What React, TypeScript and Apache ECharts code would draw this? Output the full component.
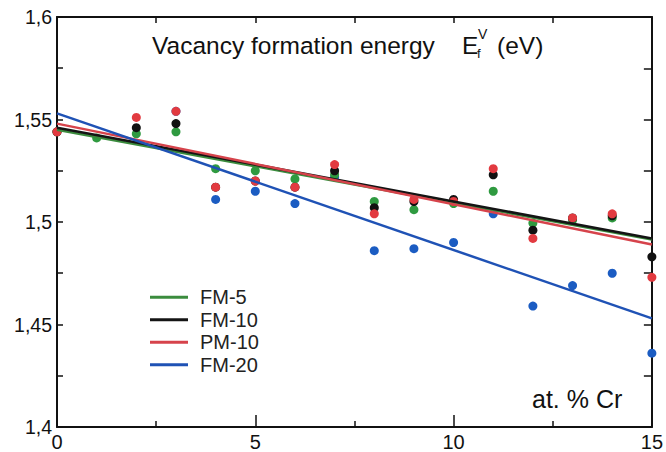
import React, { useEffect, useRef } from "react";
import * as echarts from "echarts";

const xs = [0, 1, 2, 3, 4, 5, 6, 7, 8, 9, 10, 11, 12, 13, 14, 15];
const seriesNames = ["FM-5", "FM-10", "PM-10", "FM-20"];
const fm5 = [1.544, 1.541, 1.543, 1.544, 1.526, 1.525, 1.521, 1.523, 1.51, 1.506, 1.509, 1.515, 1.4995, 1.501, 1.502, null];
const fm10 = [1.544, null, 1.546, 1.548, 1.517, 1.52, 1.517, 1.525, 1.507, 1.51, 1.511, 1.523, 1.496, 1.502, 1.503, 1.483];
const pm10 = [1.544, null, 1.551, 1.554, 1.517, 1.52, 1.517, 1.528, 1.504, 1.511, 1.51, 1.526, 1.492, 1.502, 1.504, 1.473];
const fm20 = [null, null, null, 1.554, 1.511, 1.515, 1.509, 1.522, 1.486, 1.487, 1.49, 1.504, 1.459, 1.469, 1.475, 1.436];
// fitted lines: value at 0 and at 15 at.% Cr
const fitX = [0, 15];
const fitFm5 = [1.545, 1.4915];
const fitFm10 = [1.546, 1.492];
const fitPm10 = [1.548, 1.489];
const fitFm20 = [1.553, 1.453];
const yTicks = [1.4, 1.45, 1.5, 1.55, 1.6];
const xTicks = [0, 5, 10, 15];

const colors = ["#3b8c3e", "#141414", "#d6434b", "#1f52b5"];
const dotColors = ["#2f9a40", "#111111", "#e23a40", "#1b5cc2"];
const FONT = "'Liberation Sans', Arial, Helvetica, sans-serif";

export default function App() {
  const ref = useRef<HTMLDivElement>(null);
  useEffect(() => {
    if (!ref.current) return;
    const chart = echarts.init(ref.current, null, { renderer: "svg" });
    const pts = [fm5, fm10, pm10, fm20];
    const fits = [fitFm5, fitFm10, fitPm10, fitFm20];
    const pair = (arr: (number | null)[]) =>
      xs.map((x, i) => (arr[i] == null ? null : [x, arr[i]])).filter((d) => d !== null);
    const scatterOrder = [3, 0, 1, 2];
    const scatter = scatterOrder.map((k) => ({
      name: seriesNames[k],
      type: "scatter",
      data: pair(pts[k]),
      symbolSize: 9,
      itemStyle: { color: dotColors[k], opacity: 1 },
      z: 2,
    }));
    const lines = [0, 1, 2, 3].map((k) => ({
      name: seriesNames[k],
      type: "line",
      data: fitX.map((x, i) => [x, fits[k][i]]),
      showSymbol: false,
      symbol: "none",
      lineStyle: { color: colors[k], width: 2.5 },
      itemStyle: { color: colors[k] },
      z: 3,
    }));
    const fmt = (v: number) => String(Number(v.toFixed(3))).replace(".", ",");
    chart.setOption({
      animation: false,
      backgroundColor: "#ffffff",
      grid: { left: 57, right: 11, top: 17, bottom: 25, containLabel: false },
      legend: {
        orient: "vertical",
        left: 150,
        top: 286,
        padding: 0,
        itemWidth: 38,
        itemHeight: 3,
        itemGap: 0,
        icon: "rect",
        data: seriesNames.map((n, k) => ({ name: n, itemStyle: { color: colors[k] } })),
        textStyle: { fontFamily: FONT, fontSize: 20, color: "#222", lineHeight: 22.5, padding: [0, 0, 0, 7] },
        selectedMode: false,
      },
      xAxis: [
        {
          type: "value",
          min: xTicks[0],
          max: xTicks[xTicks.length - 1],
          interval: 5,
          position: "bottom",
          axisLine: { show: true, onZero: false, lineStyle: { color: "#111", width: 2 } },
          axisTick: { show: true, inside: true, length: 12, lineStyle: { color: "#111", width: 1.5 } },
          minorTick: { show: true, splitNumber: 2, length: 6, lineStyle: { color: "#111", width: 1.5 } },
          axisLabel: { fontFamily: FONT, fontSize: 20, color: "#111", margin: 5 },
          splitLine: { show: false },
        },
        {
          type: "value",
          min: xTicks[0],
          max: xTicks[xTicks.length - 1],
          interval: 2.5,
          position: "top",
          axisLine: { show: true, onZero: false, lineStyle: { color: "#111", width: 2 } },
          axisTick: { show: true, inside: true, length: 6, lineStyle: { color: "#111", width: 1.5 } },
          axisLabel: { show: false },
          splitLine: { show: false },
        },
      ],
      yAxis: [
        {
          type: "value",
          min: yTicks[0],
          max: yTicks[yTicks.length - 1],
          interval: 0.05,
          position: "left",
          axisLine: { show: true, onZero: false, lineStyle: { color: "#111", width: 2 } },
          axisTick: { show: true, inside: true, length: 6, lineStyle: { color: "#111", width: 1.5 } },
          minorTick: { show: true, splitNumber: 2, length: 6, lineStyle: { color: "#111", width: 1.5 } },
          axisLabel: { fontFamily: FONT, fontSize: 19.5, color: "#111", margin: 5, formatter: fmt },
          splitLine: { show: false },
        },
        {
          type: "value",
          min: yTicks[0],
          max: yTicks[yTicks.length - 1],
          interval: 0.025,
          position: "right",
          axisLine: { show: true, onZero: false, lineStyle: { color: "#111", width: 2 } },
          axisTick: { show: true, inside: true, length: 8, lineStyle: { color: "#111", width: 1.5 } },
          axisLabel: { show: false },
          splitLine: { show: false },
        },
      ],
      graphic: [
        {
          type: "text",
          left: 152,
          top: 33,
          style: { text: "Vacancy formation energy", font: `24.5px ${FONT}`, fill: "#111" },
        },
        {
          type: "text",
          left: 462,
          top: 33,
          style: { text: "E", font: `24.5px ${FONT}`, fill: "#111" },
        },
        {
          type: "text",
          left: 477,
          top: 47,
          style: { text: "f", font: `13px ${FONT}`, fill: "#111" },
        },
        {
          type: "text",
          left: 478,
          top: 27,
          style: { text: "V", font: `14px ${FONT}`, fill: "#111" },
        },
        {
          type: "text",
          left: 497,
          top: 33,
          style: { text: "(eV)", font: `24.5px ${FONT}`, fill: "#111" },
        },
        {
          type: "text",
          left: 532,
          top: 386,
          style: { text: "at. % Cr", font: `25px ${FONT}`, fill: "#111" },
        },
      ],
      series: [...scatter, ...lines],
    });
    return () => chart.dispose();
  }, []);
  return (
    <div
      ref={ref}
      style={{ position: "absolute", left: 0, top: 0, width: 666, height: 452, background: "#fff" }}
    />
  );
}
